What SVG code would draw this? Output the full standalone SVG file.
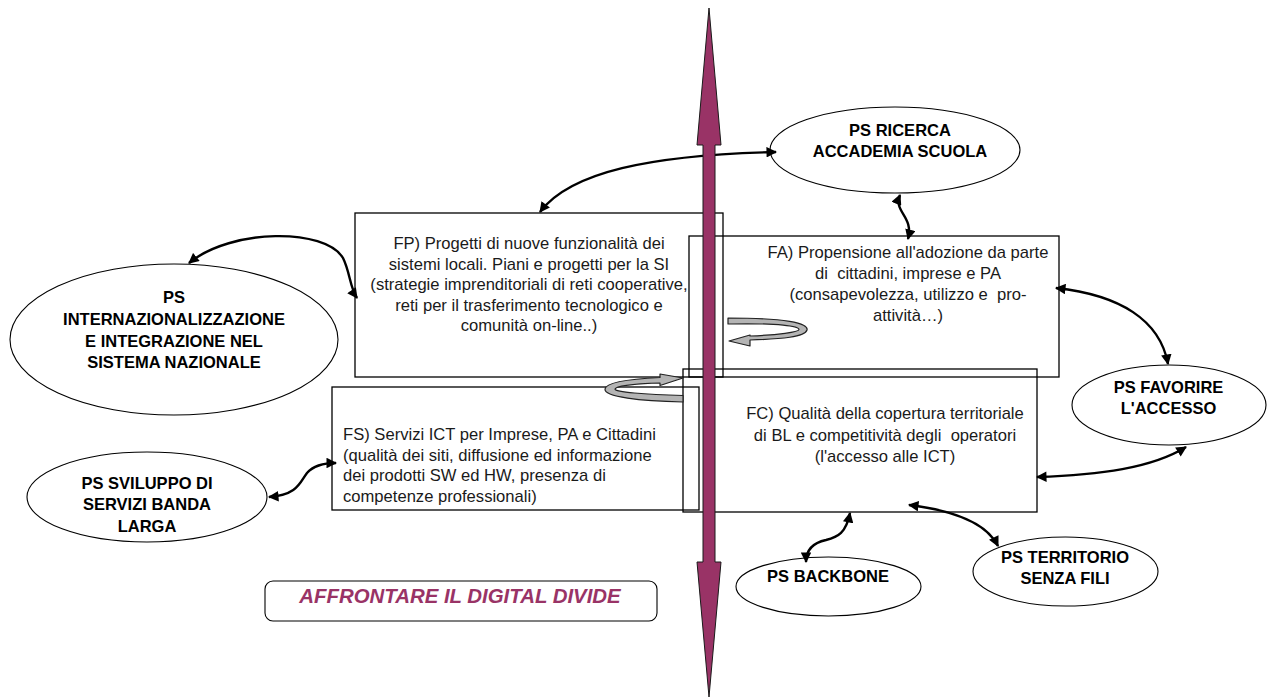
<svg xmlns="http://www.w3.org/2000/svg" width="1269" height="700" viewBox="0 0 1269 700">
<defs>
<marker id="ah" viewBox="0 0 10 10" refX="9" refY="5" markerWidth="4.6" markerHeight="4.4" orient="auto-start-reverse" markerUnits="strokeWidth">
<path d="M0,0 L10,5 L0,10 Z" fill="#000"/>
</marker>
<style>
.box{fill:none;stroke:#000;stroke-width:1.3}
.ell{fill:#fff;stroke:#000;stroke-width:1.1}
.t{font-family:"Liberation Sans",Arial,sans-serif;font-size:16.6px;fill:#1a1a1a}
.c{text-anchor:middle}
.b{font-family:"Liberation Sans",Arial,sans-serif;font-size:16.5px;font-weight:bold;fill:#000;text-anchor:middle}
.con{fill:none;stroke:#000;stroke-width:2.4;marker-start:url(#ah);marker-end:url(#ah)}
.uturn{fill:#b4b4b4;stroke:#222;stroke-width:1.2;stroke-linejoin:round}
</style>
</defs>
<rect width="1269" height="700" fill="#fff"/>

<g id="node-FP">
<rect class="box" x="355" y="213" width="368" height="164"/>
<text class="t c" x="529" y="249">FP) Progetti di nuove funzionalità dei</text>
<text class="t c" x="529" y="269.5">sistemi locali. Piani e progetti per la SI</text>
<text class="t c" x="529" y="290">(strategie imprenditoriali di reti cooperative,</text>
<text class="t c" x="529" y="310.5">reti per il trasferimento tecnologico e</text>
<text class="t c" x="529" y="331">comunità on-line..)</text>
</g>

<g id="node-FA">
<rect class="box" x="689" y="236" width="370" height="141"/>
<text class="t c" x="908" y="258">FA) Propensione all'adozione da parte</text>
<text class="t c" x="908" y="279" xml:space="preserve">di  cittadini, imprese e PA</text>
<text class="t c" x="908" y="300" xml:space="preserve">(consapevolezza, utilizzo e  pro-</text>
<text class="t c" x="908" y="321">attività…)</text>
</g>

<g id="node-FC">
<rect class="box" x="683" y="369" width="354" height="143"/>
<text class="t c" x="885" y="419">FC) Qualità della copertura territoriale</text>
<text class="t c" x="885" y="440.5" xml:space="preserve">di BL e competitività degli  operatori</text>
<text class="t c" x="885" y="462">(l'accesso alle ICT)</text>
</g>

<g id="node-FS">
<rect class="box" x="332" y="387" width="367" height="123"/>
<text class="t" x="343" y="440">FS) Servizi ICT per Imprese, PA e Cittadini</text>
<text class="t" x="343" y="460.5">(qualità dei siti, diffusione ed informazione</text>
<text class="t" x="343" y="481">dei prodotti SW ed HW, presenza di</text>
<text class="t" x="343" y="501.5">competenze professionali)</text>
</g>

<g id="node-ricerca">
<ellipse class="ell" cx="895" cy="150" rx="125" ry="43"/>
<text class="b" x="900" y="136">PS RICERCA</text>
<text class="b" x="900" y="157">ACCADEMIA SCUOLA</text>
</g>

<g id="node-internaz">
<ellipse class="ell" cx="174" cy="339.5" rx="164" ry="75.5"/>
<text class="b" x="174" y="303">PS</text>
<text class="b" x="174" y="325">INTERNAZIONALIZZAZIONE</text>
<text class="b" x="174" y="347">E INTEGRAZIONE NEL</text>
<text class="b" x="174" y="368">SISTEMA NAZIONALE</text>
</g>

<g id="node-sviluppo">
<ellipse class="ell" cx="147" cy="497" rx="120" ry="45"/>
<text class="b" x="147" y="489">PS SVILUPPO DI</text>
<text class="b" x="147" y="510">SERVIZI BANDA</text>
<text class="b" x="147" y="532">LARGA</text>
</g>

<g id="node-favorire">
<ellipse class="ell" cx="1169" cy="405" rx="97" ry="40"/>
<text class="b" x="1168.5" y="393">PS FAVORIRE</text>
<text class="b" x="1168.5" y="414">L'ACCESSO</text>
</g>

<g id="node-backbone">
<ellipse class="ell" cx="828.5" cy="586.5" rx="92.5" ry="29.5"/>
<text class="b" x="828" y="582">PS BACKBONE</text>
</g>

<g id="node-territorio">
<ellipse class="ell" cx="1065.5" cy="571.5" rx="92.5" ry="34.5"/>
<text class="b" x="1065" y="563">PS TERRITORIO</text>
<text class="b" x="1065" y="584">SENZA FILI</text>
</g>

<g id="node-digital-divide">
<rect x="265" y="581" width="392" height="40" rx="8" ry="8" fill="#fff" stroke="#000" stroke-width="1.1"/>
<text x="460" y="603" text-anchor="middle" font-family="'Liberation Sans',Arial,sans-serif" font-size="20.4px" font-weight="bold" font-style="italic" fill="#993366">AFFRONTARE IL DIGITAL DIVIDE</text>
</g>

<g id="connectors">
<path class="con" d="M540,212 C570,172 650,155 776,152"/>
<path class="con" d="M189,263 C232,228 325,228 343,258 C350,272 350,288 357,298"/>
<path class="con" d="M269,497 C298,495 300,482 307,473 C314,465 324,463 336,463"/>
<path class="con" d="M900,195 C893,212 914,216 908,239"/>
<path class="con" d="M1056,288 C1120,295 1160,320 1168,364"/>
<path class="con" d="M1037,477 C1100,475 1152,468 1186,447"/>
<path class="con" d="M850,513 C846,533 838,537 826,540 C812,543 806,551 806,562"/>
<path class="con" d="M909,505 C950,510 986,522 998,546"/>
<path class="uturn" d="M728,318 C785,318 809,323 807,330 C805,337 782,339 750,340 L750,346 L729,341 L750,335 L750,336 C778,335 799,332 799,329.5 C799,326 780,323 728,324 Z"/>
<path class="uturn" d="M683,378 L660,374 L660,377.5 C630,379 606,382 605,389 C604,397 640,401 683,402 L683,395.5 C645,394.5 614,392 615,389 C616,385.5 640,383.5 660,383 L660,385.5 Z"/>
</g>

<g id="axis">
<path d="M709,8 L721,145 L715,145 L715,562 L721,562 L709,697 L697,562 L703,562 L703,145 L697,145 Z" fill="#993366" stroke="#1a1a1a" stroke-width="1"/>
</g>
</svg>
